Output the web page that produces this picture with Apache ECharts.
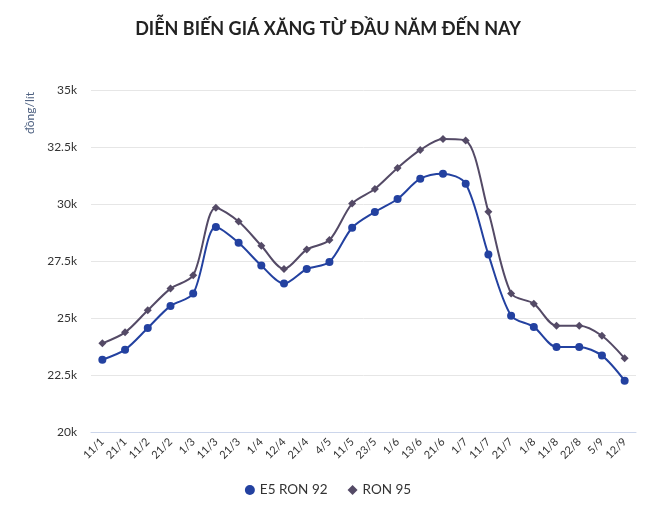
<!DOCTYPE html>
<html>
<head>
<meta charset="utf-8">
<script src="https://cdn.jsdelivr.net/npm/echarts@6/dist/echarts.min.js"></script>
<style>html,body{margin:0;padding:0;background:#fff}#c{width:656px;height:516px}</style>
</head>
<body>
<div id="c"></div>
<script>
var categories = ['11/1','21/1','11/2','21/2','1/3','11/3','21/3','1/4','12/4','21/4','4/5','11/5','23/5','1/6','13/6','21/6','1/7','11/7','21/7','1/8','11/8','22/8','5/9','12/9'];
var e5Ron92 = [23170,23610,24560,25530,26070,28990,28300,27300,26510,27150,27460,28960,29650,30220,31110,31330,30890,27780,25100,24610,23730,23730,23350,22250];
var ron95 = [23890,24370,25340,26290,26870,29840,29230,28170,27150,28000,28420,30020,30660,31580,32370,32850,32780,29660,26080,25630,24660,24660,24220,23230];
var yTicks = { min: 20000, max: 35000, interval: 2500 };

var chart = echarts.init(document.getElementById('c'));
var font = 'Lato, "Open Sans", sans-serif';
chart.setOption({
  backgroundColor: '#fff',
  textStyle: { fontFamily: font },
  title: {
    text: 'DIỄN BIẾN GIÁ XĂNG TỪ ĐẦU NĂM ĐẾN NAY',
    left: 'center', top: 15,
    textStyle: { fontSize: 18, fontWeight: 'bold', color: '#222', fontFamily: font }
  },
  legend: {
    bottom: 14, left: 'center',
    itemWidth: 10, itemHeight: 10, itemGap: 20,
    textStyle: { fontSize: 13.5, color: '#333', fontFamily: font },
    data: [{ name: 'E5 RON 92', icon: 'circle' }, { name: 'RON 95', icon: 'diamond' }]
  },
  grid: { left: 91, right: 20, top: 90, bottom: 84 },
  graphic: [{
    type: 'text', x: 30, y: 113, rotation: Math.PI / 2,
    style: { text: 'đồng/lít', fill: '#4d6080', fontSize: 12, fontFamily: font, align: 'center', verticalAlign: 'middle' }
  }],
  xAxis: {
    type: 'category', data: categories, boundaryGap: true,
    axisLine: { lineStyle: { color: '#ccd6eb' } },
    axisTick: { show: false },
    axisLabel: { rotate: 45, interval: 0, color: '#333', fontSize: 11, margin: 8 }
  },
  yAxis: {
    type: 'value', min: yTicks.min, max: yTicks.max, interval: yTicks.interval,
    axisLine: { show: false }, axisTick: { show: false },
    splitLine: { lineStyle: { color: '#e6e6e6' } },
    axisLabel: {
      color: '#333', fontSize: 12, margin: 14,
      formatter: function (v) { return (v / 1000) + 'k'; }
    }
  },
  series: [
    {
      name: 'E5 RON 92', type: 'line', smooth: 0.3, data: e5Ron92,
      symbol: 'circle', symbolSize: 8,
      itemStyle: { color: '#2341a0' }, lineStyle: { color: '#2341a0', width: 2 }
    },
    {
      name: 'RON 95', type: 'line', smooth: 0.3, data: ron95,
      symbol: 'diamond', symbolSize: 8,
      itemStyle: { color: '#544a66' }, lineStyle: { color: '#544a66', width: 2 }
    }
  ]
});
</script>
</body>
</html>
